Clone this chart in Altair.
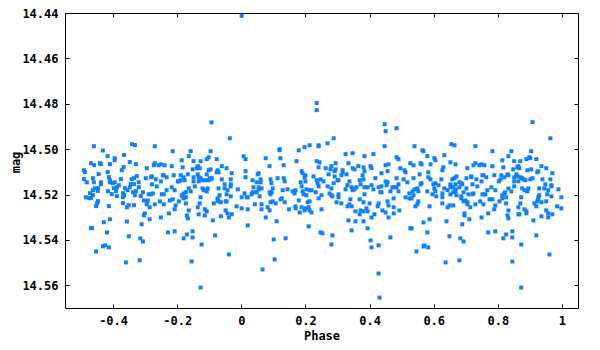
import altair as alt
import pandas as pd

# Outliers above the main band
outliers = [(0.001, 14.4412), (-0.093, 14.4882), (0.235, 14.4797), (0.235, 14.4828),
            (0.908, 14.4881), (0.447, 14.4890), (0.450, 14.4921), (0.484, 14.4908)]

seg_a = [(-0.460,14.4987),(-0.432,14.5006),(-0.341,14.4978),(-0.332,14.4982),(-0.417,14.5031),(-0.395,14.5040),(-0.395,14.5049),(-0.366,14.5026),(-0.469,14.5062),(-0.459,14.5071),(-0.441,14.5062),(-0.438,14.5066),(-0.410,14.5066),(-0.348,14.5057),(-0.329,14.5066),(-0.491,14.5093),(-0.488,14.5101),(-0.417,14.5101),(-0.367,14.5079),(-0.373,14.5093),(-0.445,14.5110),(-0.413,14.5123),(-0.410,14.5137),(-0.410,14.5146),(-0.326,14.5119),(-0.335,14.5128),(-0.342,14.5132),(-0.491,14.5132),(-0.463,14.5128),(-0.482,14.5146),(-0.460,14.5146),(-0.438,14.5146),(-0.438,14.5154),(-0.395,14.5146),(-0.401,14.5150),(-0.376,14.5132),(-0.320,14.5146),(-0.382,14.5159),(-0.345,14.5154),(-0.335,14.5154),(-0.348,14.5168),(-0.398,14.5172),(-0.388,14.5168),(-0.363,14.5172),(-0.355,14.5181),(-0.457,14.5172),(-0.463,14.5181),(-0.447,14.5172),(-0.320,14.5168),(-0.472,14.5194),(-0.448,14.5184),(-0.416,14.5185),(-0.391,14.5185),(-0.369,14.5194),(-0.366,14.5203),(-0.338,14.5190),(-0.329,14.5185),(-0.332,14.5203),(-0.404,14.5198),(-0.388,14.5207),(-0.463,14.5203),(-0.485,14.5212),(-0.475,14.5216),(-0.469,14.5216),(-0.369,14.5212),(-0.314,14.5207),(-0.447,14.5229),(-0.450,14.5238),(-0.453,14.5251),(-0.413,14.5251),(-0.369,14.5238),(-0.351,14.5247),(-0.357,14.5256),(-0.335,14.5247),(-0.410,14.5309),(-0.429,14.5322),(-0.357,14.5319),(-0.469,14.5348),(-0.466,14.5348),(-0.419,14.5367),(-0.351,14.5384),(-0.315,14.5393),(-0.432,14.5428),(-0.425,14.5424),(-0.413,14.5433),(-0.453,14.5451),(-0.360,14.5499),(-0.317,14.5490)]

seg_b = [(-0.270,14.4987),(-0.214,14.5009),(-0.158,14.5009),(-0.096,14.5009),(-0.164,14.5031),(-0.186,14.5049),(-0.149,14.5053),(-0.127,14.5053),(-0.102,14.5036),(-0.108,14.5044),(-0.295,14.5084),(-0.273,14.5071),(-0.270,14.5062),(-0.258,14.5071),(-0.251,14.5067),(-0.239,14.5071),(-0.217,14.5075),(-0.183,14.5080),(-0.152,14.5089),(-0.136,14.5075),(-0.139,14.5084),(-0.130,14.5084),(-0.102,14.5093),(-0.096,14.5089),(-0.245,14.5115),(-0.242,14.5115),(-0.233,14.5124),(-0.211,14.5115),(-0.189,14.5115),(-0.167,14.5111),(-0.149,14.5124),(-0.136,14.5111),(-0.133,14.5124),(-0.127,14.5128),(-0.108,14.5111),(-0.099,14.5128),(-0.092,14.5128),(-0.298,14.5128),(-0.282,14.5124),(-0.279,14.5120),(-0.267,14.5133),(-0.251,14.5142),(-0.198,14.5142),(-0.195,14.5142),(-0.180,14.5124),(-0.189,14.5137),(-0.177,14.5137),(-0.149,14.5142),(-0.133,14.5142),(-0.121,14.5137),(-0.111,14.5137),(-0.102,14.5137),(-0.096,14.5133),(-0.279,14.5155),(-0.264,14.5164),(-0.217,14.5168),(-0.208,14.5181),(-0.233,14.5181),(-0.164,14.5173),(-0.145,14.5164),(-0.121,14.5173),(-0.117,14.5181),(-0.105,14.5173),(-0.108,14.5186),(-0.158,14.5186),(-0.173,14.5190),(-0.180,14.5195),(-0.307,14.5190),(-0.289,14.5199),(-0.282,14.5199),(-0.276,14.5195),(-0.248,14.5199),(-0.242,14.5199),(-0.186,14.5203),(-0.173,14.5212),(-0.127,14.5212),(-0.304,14.5226),(-0.295,14.5230),(-0.292,14.5226),(-0.254,14.5230),(-0.223,14.5226),(-0.214,14.5221),(-0.195,14.5230),(-0.180,14.5217),(-0.183,14.5208),(-0.295,14.5243),(-0.286,14.5256),(-0.270,14.5243),(-0.242,14.5243),(-0.205,14.5248),(-0.173,14.5239),(-0.130,14.5239),(-0.136,14.5256),(-0.086,14.5239),(-0.208,14.5265),(-0.164,14.5270),(-0.114,14.5265),(-0.108,14.5274),(-0.301,14.5283),(-0.304,14.5292),(-0.226,14.5283),(-0.170,14.5292),(-0.167,14.5305),(-0.133,14.5287),(-0.114,14.5292),(-0.286,14.5309),(-0.251,14.5301),(-0.089,14.5314),(-0.311,14.5331),(-0.229,14.5367),(-0.208,14.5362),(-0.152,14.5362),(-0.170,14.5376),(-0.180,14.5393),(-0.152,14.5389),(-0.082,14.5380),(-0.307,14.5407),(-0.124,14.5420),(-0.155,14.5495),(-0.127,14.5610)]

seg_c = [(-0.036,14.4952),(0.119,14.5000),(0.119,14.5005),(0.007,14.5031),(0.013,14.5044),(0.076,14.5040),(0.122,14.5040),(-0.077,14.5044),(-0.061,14.5075),(-0.046,14.5084),(0.088,14.5075),(0.132,14.5071),(-0.074,14.5093),(-0.071,14.5102),(-0.077,14.5102),(-0.030,14.5106),(0.013,14.5097),(0.054,14.5106),(0.051,14.5111),(0.013,14.5124),(-0.061,14.5133),(-0.033,14.5133),(0.035,14.5137),(0.060,14.5133),(0.060,14.5146),(0.048,14.5146),(0.091,14.5133),(0.113,14.5128),(0.132,14.5128),(0.135,14.5142),(0.094,14.5150),(-0.052,14.5155),(-0.033,14.5155),(-0.033,14.5164),(-0.071,14.5173),(-0.052,14.5173),(-0.043,14.5181),(-0.011,14.5177),(0.038,14.5168),(0.054,14.5168),(0.054,14.5177),(0.063,14.5173),(0.098,14.5173),(0.144,14.5177),(0.129,14.5181),(0.035,14.5190),(0.042,14.5190),(0.048,14.5190),(0.010,14.5195),(0.032,14.5199),(0.088,14.5190),(0.094,14.5190),(0.091,14.5199),(-0.068,14.5203),(-0.046,14.5199),(-0.033,14.5208),(0.001,14.5212),(0.017,14.5212),(0.020,14.5212),(0.057,14.5208),(0.126,14.5217),(0.122,14.5221),(-0.074,14.5217),(-0.074,14.5226),(-0.071,14.5230),(-0.064,14.5234),(-0.049,14.5230),(-0.046,14.5230),(0.098,14.5230),(0.091,14.5234),(0.107,14.5239),(0.135,14.5234),(0.042,14.5243),(0.063,14.5243),(-0.015,14.5252),(0.001,14.5261),(0.020,14.5265),(0.063,14.5265),(0.082,14.5256),(0.088,14.5270),(0.149,14.5265),(-0.049,14.5270),(-0.043,14.5283),(-0.030,14.5287),(-0.064,14.5296),(-0.039,14.5301),(0.076,14.5301),(0.110,14.5318),(0.020,14.5336),(0.101,14.5398),(0.138,14.5393),(-0.039,14.5464),(0.104,14.5486),(0.066,14.5530)]

seg_d = [(0.288,14.4952),(0.269,14.4974),(0.213,14.4983),(0.241,14.4983),(0.241,14.4987),(0.197,14.4991),(0.179,14.5005),(0.325,14.5022),(0.347,14.5018),(0.384,14.5031),(0.172,14.5053),(0.235,14.5053),(0.244,14.5058),(0.294,14.5062),(0.334,14.5062),(0.241,14.5080),(0.263,14.5084),(0.281,14.5075),(0.278,14.5089),(0.294,14.5089),(0.291,14.5097),(0.316,14.5093),(0.316,14.5102),(0.347,14.5084),(0.353,14.5089),(0.365,14.5075),(0.381,14.5080),(0.188,14.5097),(0.191,14.5106),(0.200,14.5115),(0.197,14.5124),(0.225,14.5120),(0.272,14.5111),(0.328,14.5111),(0.378,14.5115),(0.384,14.5097),(0.291,14.5120),(0.312,14.5115),(0.235,14.5137),(0.247,14.5133),(0.256,14.5142),(0.185,14.5146),(0.200,14.5142),(0.238,14.5150),(0.241,14.5164),(0.288,14.5150),(0.300,14.5137),(0.303,14.5137),(0.337,14.5142),(0.369,14.5137),(0.381,14.5133),(0.188,14.5164),(0.203,14.5177),(0.219,14.5181),(0.232,14.5190),(0.269,14.5164),(0.281,14.5173),(0.331,14.5159),(0.344,14.5168),(0.347,14.5181),(0.353,14.5177),(0.359,14.5168),(0.372,14.5155),(0.384,14.5168),(0.160,14.5186),(0.166,14.5195),(0.169,14.5181),(0.191,14.5186),(0.194,14.5199),(0.203,14.5203),(0.213,14.5181),(0.250,14.5203),(0.275,14.5195),(0.281,14.5203),(0.284,14.5208),(0.303,14.5199),(0.303,14.5212),(0.325,14.5177),(0.384,14.5199),(0.241,14.5217),(0.179,14.5226),(0.207,14.5234),(0.213,14.5230),(0.297,14.5234),(0.312,14.5239),(0.340,14.5221),(0.369,14.5221),(0.381,14.5234),(0.169,14.5252),(0.169,14.5261),(0.188,14.5256),(0.200,14.5261),(0.197,14.5270),(0.210,14.5256),(0.213,14.5270),(0.219,14.5279),(0.182,14.5279),(0.250,14.5265),(0.331,14.5252),(0.337,14.5243),(0.344,14.5252),(0.356,14.5274),(0.372,14.5270),(0.381,14.5274),(0.369,14.5287),(0.334,14.5314),(0.356,14.5318),(0.381,14.5318),(0.210,14.5340),(0.344,14.5358),(0.247,14.5367),(0.253,14.5371),(0.284,14.5380),(0.281,14.5420)]

seg_e = [(0.447,14.4987),(0.540,14.4987),(0.565,14.5005),(0.568,14.5009),(0.412,14.5022),(0.484,14.5036),(0.490,14.5044),(0.580,14.5031),(0.602,14.5040),(0.605,14.5049),(0.527,14.5062),(0.537,14.5071),(0.559,14.5062),(0.562,14.5067),(0.590,14.5067),(0.403,14.5075),(0.406,14.5084),(0.450,14.5071),(0.459,14.5067),(0.496,14.5084),(0.509,14.5093),(0.512,14.5102),(0.456,14.5097),(0.437,14.5106),(0.556,14.5111),(0.583,14.5102),(0.418,14.5128),(0.484,14.5128),(0.506,14.5133),(0.518,14.5146),(0.537,14.5128),(0.583,14.5124),(0.590,14.5133),(0.450,14.5142),(0.453,14.5159),(0.456,14.5146),(0.428,14.5168),(0.437,14.5164),(0.406,14.5159),(0.490,14.5155),(0.394,14.5168),(0.471,14.5168),(0.478,14.5168),(0.484,14.5168),(0.559,14.5155),(0.562,14.5150),(0.605,14.5150),(0.599,14.5155),(0.615,14.5159),(0.602,14.5173),(0.412,14.5177),(0.465,14.5186),(0.490,14.5186),(0.540,14.5177),(0.549,14.5173),(0.552,14.5186),(0.534,14.5186),(0.434,14.5190),(0.437,14.5190),(0.580,14.5186),(0.605,14.5186),(0.524,14.5195),(0.596,14.5199),(0.608,14.5208),(0.537,14.5203),(0.512,14.5212),(0.524,14.5217),(0.531,14.5217),(0.475,14.5217),(0.552,14.5230),(0.549,14.5243),(0.400,14.5239),(0.428,14.5239),(0.425,14.5252),(0.456,14.5230),(0.459,14.5248),(0.543,14.5252),(0.587,14.5252),(0.475,14.5256),(0.390,14.5261),(0.394,14.5274),(0.440,14.5270),(0.493,14.5270),(0.450,14.5279),(0.475,14.5283),(0.415,14.5287),(0.406,14.5301),(0.459,14.5301),(0.587,14.5309),(0.568,14.5323),(0.394,14.5349),(0.527,14.5349),(0.531,14.5349),(0.580,14.5367),(0.465,14.5389),(0.403,14.5402),(0.428,14.5424),(0.406,14.5433),(0.568,14.5429),(0.571,14.5424),(0.583,14.5433),(0.546,14.5451),(0.428,14.5548),(0.431,14.5654)]

seg_f = [(0.655,14.4978),(0.665,14.4983),(0.730,14.4987),(0.783,14.5009),(0.842,14.5009),(0.633,14.5027),(0.833,14.5031),(0.814,14.5049),(0.851,14.5053),(0.652,14.5058),(0.668,14.5067),(0.730,14.5062),(0.724,14.5071),(0.742,14.5071),(0.749,14.5067),(0.758,14.5071),(0.783,14.5075),(0.817,14.5080),(0.630,14.5080),(0.627,14.5093),(0.705,14.5084),(0.848,14.5089),(0.752,14.5115),(0.755,14.5115),(0.764,14.5124),(0.789,14.5115),(0.811,14.5115),(0.808,14.5133),(0.803,14.5142),(0.820,14.5124),(0.830,14.5111),(0.833,14.5115),(0.851,14.5124),(0.671,14.5120),(0.665,14.5128),(0.658,14.5133),(0.624,14.5133),(0.702,14.5128),(0.717,14.5120),(0.717,14.5124),(0.733,14.5133),(0.749,14.5142),(0.680,14.5146),(0.686,14.5150),(0.689,14.5155),(0.721,14.5155),(0.736,14.5164),(0.652,14.5155),(0.652,14.5168),(0.668,14.5155),(0.633,14.5173),(0.643,14.5181),(0.661,14.5168),(0.668,14.5177),(0.668,14.5186),(0.680,14.5168),(0.702,14.5173),(0.767,14.5181),(0.780,14.5168),(0.792,14.5181),(0.833,14.5173),(0.842,14.5186),(0.851,14.5164),(0.851,14.5142),(0.627,14.5195),(0.627,14.5212),(0.652,14.5199),(0.661,14.5190),(0.671,14.5203),(0.693,14.5190),(0.708,14.5199),(0.721,14.5199),(0.724,14.5195),(0.752,14.5199),(0.758,14.5199),(0.761,14.5199),(0.814,14.5203),(0.814,14.5217),(0.820,14.5195),(0.823,14.5190),(0.826,14.5212),(0.686,14.5208),(0.686,14.5217),(0.699,14.5226),(0.693,14.5230),(0.705,14.5234),(0.705,14.5243),(0.745,14.5230),(0.774,14.5221),(0.783,14.5221),(0.805,14.5230),(0.826,14.5239),(0.627,14.5239),(0.643,14.5256),(0.649,14.5248),(0.661,14.5248),(0.714,14.5256),(0.730,14.5243),(0.755,14.5243),(0.792,14.5248),(0.789,14.5265),(0.833,14.5270),(0.696,14.5283),(0.696,14.5292),(0.770,14.5283),(0.830,14.5292),(0.833,14.5305),(0.749,14.5301),(0.711,14.5309),(0.640,14.5318),(0.689,14.5331),(0.845,14.5362),(0.770,14.5367),(0.792,14.5362),(0.826,14.5376),(0.817,14.5393),(0.845,14.5389),(0.649,14.5384),(0.683,14.5393),(0.693,14.5407),(0.680,14.5490),(0.637,14.5499),(0.845,14.5495)]

seg_g = [(0.964,14.4952),(0.904,14.5009),(0.889,14.5044),(0.898,14.5036),(0.901,14.5040),(0.920,14.5044),(0.870,14.5053),(0.936,14.5075),(0.951,14.5084),(0.864,14.5075),(0.861,14.5080),(0.867,14.5084),(0.892,14.5093),(0.904,14.5089),(0.923,14.5102),(0.926,14.5097),(0.970,14.5106),(0.858,14.5111),(0.861,14.5120),(0.870,14.5124),(0.876,14.5128),(0.880,14.5133),(0.886,14.5137),(0.901,14.5133),(0.908,14.5128),(0.939,14.5133),(0.964,14.5133),(0.864,14.5142),(0.967,14.5159),(0.967,14.5164),(0.948,14.5155),(0.989,14.5177),(0.876,14.5173),(0.883,14.5181),(0.892,14.5186),(0.895,14.5173),(0.929,14.5173),(0.945,14.5173),(0.957,14.5181),(0.954,14.5199),(0.929,14.5203),(0.926,14.5212),(0.967,14.5208),(0.998,14.5212),(0.873,14.5212),(0.926,14.5221),(0.923,14.5230),(0.914,14.5239),(0.936,14.5234),(0.951,14.5230),(0.870,14.5239),(0.864,14.5256),(0.920,14.5252),(0.985,14.5252),(0.998,14.5261),(0.883,14.5265),(0.889,14.5274),(0.889,14.5283),(0.864,14.5287),(0.867,14.5287),(0.951,14.5270),(0.957,14.5283),(0.970,14.5287),(0.936,14.5296),(0.957,14.5301),(0.911,14.5314),(0.920,14.5380),(0.873,14.5420),(0.961,14.5464),(0.873,14.5610)]

x_ticks = [-0.4, -0.2, 0, 0.2, 0.4, 0.6, 0.8, 1]
y_ticks = [14.44, 14.46, 14.48, 14.50, 14.52, 14.54, 14.56]

rows = []
for seg in [outliers, seg_a, seg_b, seg_c, seg_d, seg_e, seg_f, seg_g]:
    rows.extend(seg)
df = pd.DataFrame(rows, columns=["phase", "mag"])

FONT = "DejaVu Sans Mono"
xscale = alt.Scale(domain=[-0.55, 1.05], nice=False, zero=False)
yscale = alt.Scale(domain=[14.44, 14.57], nice=False, zero=False, reverse=True)

common = dict(
    labelFont=FONT, labelFontSize=12, labelFontWeight="bold", labelColor="black",
    titleFont=FONT, titleFontSize=12, titleFontWeight="bold", titleColor="black",
    domain=False, grid=False, tickColor="black", tickSize=4, tickWidth=1, offset=-4,
)

points = alt.Chart(df).mark_square(size=16, color="#0f80ff", opacity=1).encode(
    x=alt.X("phase:Q", scale=xscale,
            axis=alt.Axis(title="Phase", values=x_ticks, labelPadding=7,
                          titleX=256.5, titleY=35, titleAlign="center",
                          titleBaseline="alphabetic",
                          labelExpr="replace(format(datum.value, '~g'), '\u2212', '-')",
                          **common)),
    y=alt.Y("mag:Q", scale=yscale,
            axis=alt.Axis(title="mag", values=y_ticks, format=".2f", labelPadding=7,
                          titleX=-50, titleY=149, titleAngle=270, titleAlign="center",
                          titleBaseline="alphabetic", **common)),
)

mirror = alt.Chart(df).mark_square(size=1, opacity=0).encode(
    x=alt.X("phase:Q", scale=xscale,
            axis=alt.Axis(orient="top", labels=False, title=None, values=x_ticks, **common)),
    y=alt.Y("mag:Q", scale=yscale,
            axis=alt.Axis(orient="right", labels=False, title=None, values=y_ticks, **common)),
)

chart = alt.layer(points, mirror).resolve_axis(
    x="independent", y="independent"
).properties(
    width=513, height=295,
    autosize=alt.AutoSizeParams(type="none"),
    padding={"left": 57, "top": 5, "right": 12, "bottom": 34},
    background="white",
).configure_view(stroke="black", strokeWidth=1)

chart.save("out.html", embed_options={"renderer": "svg", "actions": False})
